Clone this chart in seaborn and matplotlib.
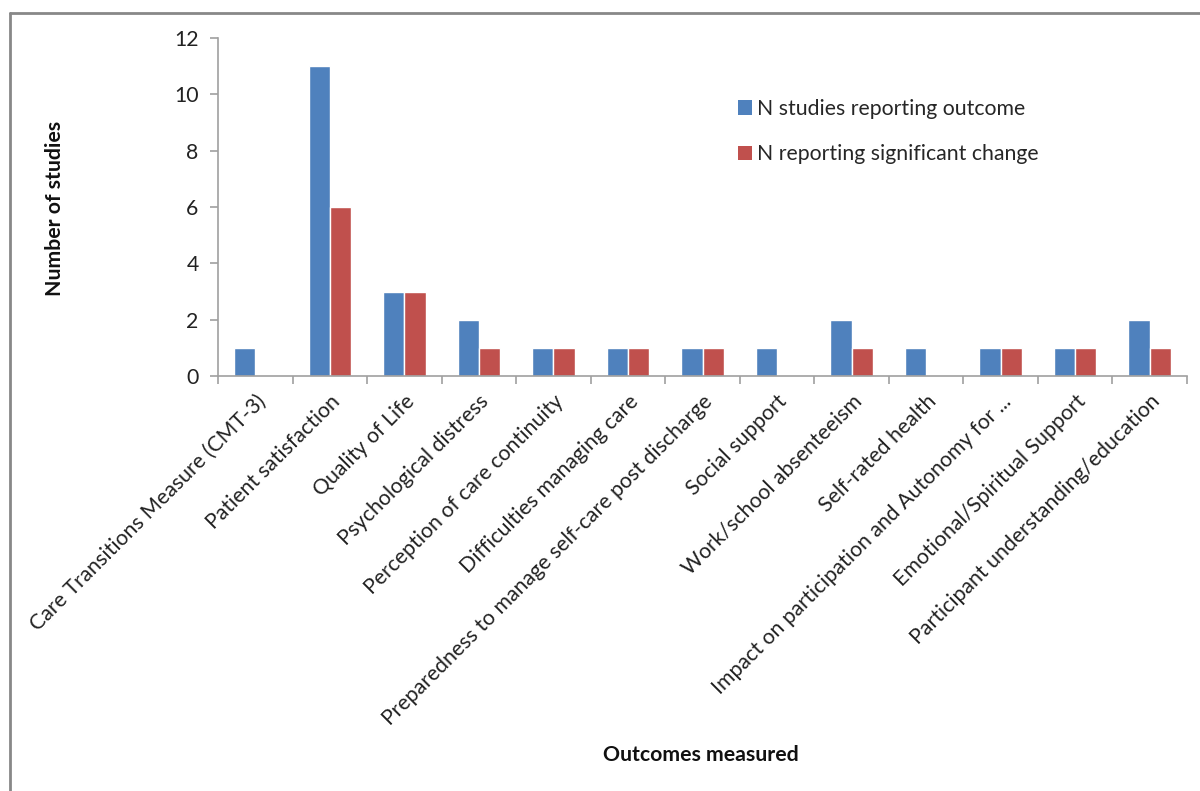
import matplotlib
matplotlib.use("Agg")
import matplotlib.pyplot as plt
import seaborn as sns
import pandas as pd
from matplotlib.lines import Line2D
from matplotlib.patches import Patch

categories = [
    "Care Transitions Measure (CMT-3)",
    "Patient satisfaction",
    "Quality of Life",
    "Psychological distress",
    "Perception of care continuity",
    "Difficulties managing care",
    "Preparedness to manage self-care post discharge",
    "Social support",
    "Work/school absenteeism",
    "Self-rated health",
    "Impact on participation and Autonomy for ...",
    "Emotional/Spiritual Support",
    "Participant understanding/education",
]
n_reporting = [1, 11, 3, 2, 1, 1, 1, 1, 2, 1, 1, 1, 2]
n_significant = [0, 6, 3, 1, 1, 1, 1, 0, 1, 0, 1, 1, 1]
series_names = ["N studies reporting outcome", "N reporting significant change"]
colors = ["#4F81BD", "#C0504D"]
yticks = [0, 2, 4, 6, 8, 10, 12]

df = pd.DataFrame({
    "Outcome": categories * 2,
    "Series": [series_names[0]] * len(categories) + [series_names[1]] * len(categories),
    "Value": n_reporting + n_significant,
})

sns.set_theme(style="white")
plt.rcParams["font.family"] = ["Lato", "DejaVu Sans"]
FS = 15.3

fig = plt.figure(figsize=(12, 7.91), dpi=100)
ax = fig.add_axes([218 / 1200, 1 - 376 / 791, (1187 - 218) / 1200, (376 - 38) / 791])

sns.barplot(data=df, x="Outcome", y="Value", hue="Series", palette=colors,
            width=0.57, gap=0, ax=ax, legend=False, saturation=1)

ax.set_xlim(-0.5, len(categories) - 0.5)
ax.set_ylim(0, 12)
ax.set_yticks(yticks)
ax.set_yticklabels([str(v) for v in yticks], fontsize=FS, color="#222222")

grey = "#A0A0A0"
for s in ["top", "right"]:
    ax.spines[s].set_visible(False)
for s in ["left", "bottom"]:
    ax.spines[s].set_color(grey)
    ax.spines[s].set_linewidth(1.2)

ax.tick_params(axis="y", which="major", left=True, length=6, width=1.2, color=grey, pad=8)
ax.set_xticks(range(len(categories)))
ax.set_xticklabels(categories, rotation=45, ha="right", rotation_mode="anchor",
                   fontsize=FS, color="#222222")
ax.tick_params(axis="x", which="major", bottom=False, length=0, pad=11)
ax.set_xticks([i - 0.5 for i in range(len(categories) + 1)], minor=True)
ax.tick_params(axis="x", which="minor", bottom=True, length=6, width=1.2, color=grey)

ax.set_xlabel("")
ax.set_ylabel("")
fig.text(55 / 1200, 1 - 208 / 791, "Number of studies", rotation=90, ha="center",
         va="center", fontsize=FS, fontweight="bold", color="#111111")
fig.text(701 / 1200, 1 - 755 / 791, "Outcomes measured", ha="center", va="center",
         fontsize=FS, fontweight="bold", color="#111111")

handles = [Patch(facecolor=c, edgecolor="none") for c in colors]
fig.legend(handles, series_names, loc="upper left",
           bbox_to_anchor=(738 / 1200, 1 - 99 / 791), frameon=False, fontsize=FS,
           handlelength=0.65, handleheight=0.65, handletextpad=0.25, labelspacing=1.2,
           borderaxespad=0, borderpad=0)

# chart-area border (top and left visible)
fig.add_artist(Line2D([10 / 1200, 1.0], [1 - 13 / 791, 1 - 13 / 791],
                      transform=fig.transFigure, color="#888888", linewidth=2.0))
fig.add_artist(Line2D([10 / 1200, 10 / 1200], [0, 1 - 13 / 791],
                      transform=fig.transFigure, color="#888888", linewidth=2.0))

fig.savefig("out.png", dpi=100, facecolor="white")
